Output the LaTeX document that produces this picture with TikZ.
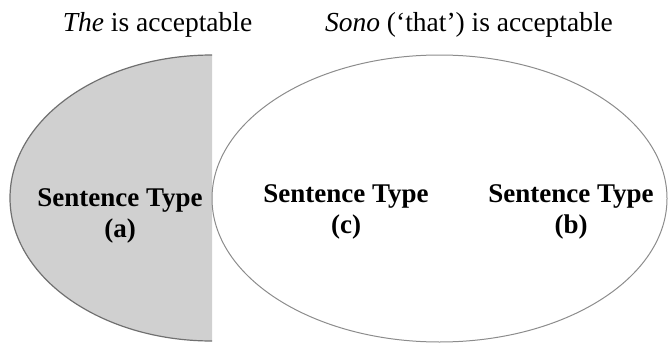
\documentclass[tikz,border=0pt]{standalone}
\usepackage{fontspec}
\setmainfont{Liberation Serif}
\usetikzlibrary{shapes.geometric}
\definecolor{setgray}{RGB}{208,208,208}
\definecolor{rim}{RGB}{112,112,112}
\definecolor{rimlight}{RGB}{140,140,140}
\tikzset{
  toplabel/.style={anchor=base, inner sep=0pt, font=\fontsize{27.5}{31}\selectfont},
  typelabel/.style={align=center, inner sep=0pt, font=\fontsize{27}{31}\selectfont\bfseries},
  setring/.style={ellipse, draw=rimlight, line width=1pt, inner sep=0pt}
}
\begin{document}
\begin{tikzpicture}[x=1pt, y=-1pt]
  \useasboundingbox (0,0) rectangle (668,345);
  % left (shaded) half-set
  \coordinate (theC) at (212,198);
  \begin{scope}
    \clip (0,0) rectangle (212,345);
    \fill[setgray] (theC) ellipse [x radius=202pt, y radius=143pt];
    \draw[rim, line width=1.2pt] (theC) ellipse [x radius=202pt, y radius=143pt];
  \end{scope}
  % right set
  \node[setring, minimum width=455pt, minimum height=287pt] (sono) at (439.5,198.5) {};
  % headings
  \node[toplabel] (hThe) at (157.5,32) {\textit{The} is acceptable};
  \node[toplabel] (hSono) at (469,32) {\textit{Sono} (‘that’) is acceptable};
  % sentence types
  \node[typelabel] (ta) at (120,216) {Sentence Type\\(a)};
  \node[typelabel] (tc) at (346,212) {Sentence Type\\(c)};
  \node[typelabel] (tb) at (571,212) {Sentence Type\\(b)};
\end{tikzpicture}
\end{document}
